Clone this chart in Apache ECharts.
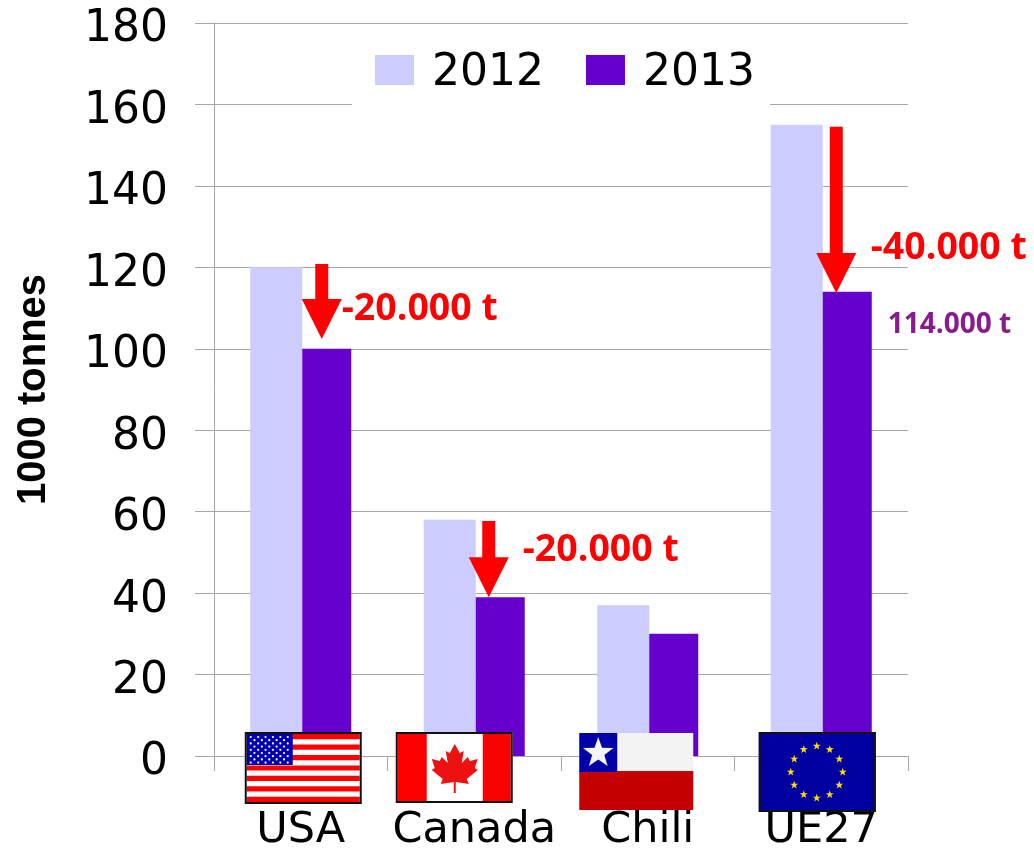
<!DOCTYPE html>
<html><head><meta charset="utf-8">
<style>html,body{margin:0;padding:0;background:#fff}#c{width:1034px;height:850px}</style>
<script src="https://cdn.jsdelivr.net/npm/echarts@6/dist/echarts.min.js"></script>
</head><body><div id="c"></div>
<script>
const categories = ['USA', 'Canada', 'Chili', 'UE27'];
const values2012 = [120, 58, 37, 155];
const values2013 = [100, 39, 30, 114];
const arrowCategory = [0, 1, 3];
const arrowTop = [120.8, 57.7, 154.5];
const arrowTip = [102.4, 39, 113.7];
const noteCategory = [0, 1, 3, 3];
const noteValue = [109.8, 50.5, 124.7, 105.8];
const noteText = ['-20.000 t', '-20.000 t', '-40.000 t', '114.000 t'];

const AXIS = '#A6A6A6', SANS = '"DejaVu Sans"', RED = '#FF0000';
const arrowDx = [21, 14.5, 15];
const noteDx = [41, 48.5, 49.5, 66.5];
const noteStyle = [
  {size: 37.5, color: RED}, {size: 37.5, color: RED}, {size: 37.5, color: RED}, {size: 28, color: '#881B8E'}
];

function star(cx, cy, R, fill) {
  const pts = [];
  for (let i = 0; i < 10; i++) {
    const r = i % 2 ? R * 0.4 : R, a = -Math.PI / 2 + i * Math.PI / 5;
    pts.push([cx + r * Math.cos(a), cy + r * Math.sin(a)]);
  }
  return {type: 'polygon', shape: {points: pts}, style: {fill}};
}
function rect(x, y, width, height, fill, extra) {
  return {type: 'rect', shape: {x, y, width, height}, style: Object.assign({fill}, extra || {})};
}
function flagUSA(x, y) {
  const w = 117, h = 72, kids = [rect(x, y, w, h, '#fff')];
  const n = 13, sh = (h - 4) / n;
  for (let i = 0; i < n; i += 2) kids.push(rect(x + 2, y + 2 + i * sh, w - 4, sh, RED));
  kids.push(rect(x + 2, y + 2, 46, 31, '#0000B0'));
  for (let r = 0; r < 9; r++) {
    const cnt = r % 2 ? 5 : 6;
    for (let c = 0; c < cnt; c++) {
      kids.push({type: 'circle', shape: {cx: x + 6 + (r % 2 ? 3.7 : 0) + c * 7.4, cy: y + 5 + r * 3.2, r: 1.1}, style: {fill: '#fff'}});
    }
  }
  kids.push(rect(x + 1, y + 1, w - 2, h - 2, 'none', {stroke: '#111', lineWidth: 2}));
  return kids;
}
function flagCanada(x, y) {
  const w = 117, h = 71, cx = x + 59;
  const leaf = [[0,-24],[5,-15],[9,-17],[7,-5],[13,-11],[15,-7],[23,-9],[20,0],[23,2],[12,11],[14,16],[1,14],[1,25],[-1,25],[-1,14],[-14,16],[-12,11],[-23,2],[-20,0],[-23,-9],[-15,-7],[-13,-11],[-7,-5],[-9,-17],[-5,-15]];
  const kids = [
    rect(x, y, w, h, '#fff'),
    rect(x + 2, y + 2, 29, h - 4, RED),
    rect(x + 87, y + 2, 28, h - 4, RED),
    {type: 'polygon', shape: {points: leaf.map(p => [cx + p[0], y + 36 + p[1]])}, style: {fill: '#EE1111'}},
    rect(x + 1, y + 1, w - 2, h - 2, 'none', {stroke: '#111', lineWidth: 2})
  ];
  return kids;
}
function flagChile(x, y) {
  return [
    rect(x, y, 114, 39, '#F3F3F3'),
    rect(x, y + 38, 114, 39, '#C40000'),
    rect(x, y, 38, 39, '#0000A8'),
    star(x + 19, y + 20, 16, '#F4F4F8')
  ];
}
function flagEU(x, y) {
  const w = 117, h = 80, kids = [
    rect(x, y, w, h, '#0000A0'),
    rect(x + 1, y + 1, w - 2, h - 2, 'none', {stroke: '#111', lineWidth: 2})
  ];
  for (let i = 0; i < 12; i++) {
    const a = i * Math.PI / 6;
    kids.push(star(x + 58 + 26 * Math.sin(a), y + 40 - 26 * Math.cos(a), 4.2, '#FFDD00'));
  }
  return kids;
}
const flagBuilders = [flagUSA, flagCanada, flagChile, flagEU];
const flagDx = [-56, -78.5, -68.5, -62.5];
const flagY = [732, 732, 733, 732];

const chart = echarts.init(document.getElementById('c'), null, {renderer: 'canvas'});
chart.setOption({
  animation: false,
  backgroundColor: '#fff',
  tooltip: {show: false},
  grid: {left: 214, right: 126, top: 23, bottom: 94, containLabel: false, outerBoundsMode: 'none'},
  legend: {
    show: true, left: 352, top: 28, selectedMode: false,
    data: ['2012', '2013'],
    backgroundColor: '#fff',
    padding: [24, 15, 14, 23],
    itemWidth: 39, itemHeight: 38, itemGap: 42,
    icon: 'path://M0 0H39V30H0Z M0 38L0 38Z',
    textStyle: {fontFamily: SANS, fontSize: 44, color: '#000', padding: [0, 0, 0, 13]}
  },
  xAxis: {
    type: 'category', data: categories,
    axisLine: {lineStyle: {color: AXIS, width: 1}},
    axisTick: {show: true, length: 15, alignWithLabel: false, lineStyle: {color: AXIS, width: 1}},
    axisLabel: {fontFamily: SANS, fontSize: 43, color: '#000', margin: 53, interval: 0, hideOverlap: false},
    splitLine: {show: false}
  },
  yAxis: {
    type: 'value', min: 0, max: 180, interval: 20,
    name: '1000 tonnes', nameLocation: 'middle', nameRotate: 90, nameGap: 160,
    nameTextStyle: {fontFamily: '"Liberation Sans"', fontWeight: 'bold', fontSize: 40, color: '#000'},
    axisLine: {show: true, lineStyle: {color: AXIS, width: 1}},
    axisTick: {show: true, length: 19, lineStyle: {color: AXIS, width: 1}},
    axisLabel: {fontFamily: SANS, fontSize: 44, color: '#000', margin: 46, verticalAlign: 'top', lineHeight: 14},
    splitLine: {show: true, lineStyle: {color: AXIS, width: 1}}
  },
  series: [
    {name: '2012', type: 'bar', data: values2012, barWidth: 52, barGap: 0, itemStyle: {color: '#CCCCFF'}},
    {name: '2013', type: 'bar', data: values2013, barWidth: 49, barGap: 0, itemStyle: {color: '#6600CC'}},
    {
      name: 'flags', type: 'custom', clip: false, z: 5, silent: true,
      data: categories.map((c, i) => [i, 0]),
      encode: {x: 0, y: 1},
      renderItem(params, api) {
        const i = params.dataIndex, p = api.coord([api.value(0), 0]);
        return {type: 'group', children: flagBuilders[i](p[0] + flagDx[i], flagY[i])};
      }
    },
    {
      name: 'arrows', type: 'custom', clip: false, z: 6, silent: true,
      data: arrowCategory.map((c, i) => [c, arrowTop[i], arrowTip[i]]),
      encode: {x: 0, y: [1, 2]},
      renderItem(params, api) {
        const i = params.dataIndex;
        const t = api.coord([api.value(0), api.value(1)]);
        const b = api.coord([api.value(0), api.value(2)]);
        const x = t[0] + arrowDx[i], hw = 20, sw = 6.5, hh = 40;
        return {type: 'polygon', shape: {points: [
          [x - sw, t[1]], [x + sw, t[1]], [x + sw, b[1] - hh], [x + hw, b[1] - hh],
          [x, b[1]], [x - hw, b[1] - hh], [x - sw, b[1] - hh]
        ]}, style: {fill: RED}};
      }
    },
    {
      name: 'notes', type: 'custom', clip: false, z: 7, silent: true,
      data: noteCategory.map((c, i) => [c, noteValue[i]]),
      encode: {x: 0, y: 1},
      renderItem(params, api) {
        const i = params.dataIndex, p = api.coord([api.value(0), api.value(1)]);
        return {type: 'text', x: p[0] + noteDx[i], y: p[1], style: {
          text: noteText[i], fill: noteStyle[i].color,
          font: 'bold ' + noteStyle[i].size + 'px "Open Sans"',
          textAlign: 'left', textVerticalAlign: 'middle'
        }};
      }
    }
  ]
});
</script></body></html>
